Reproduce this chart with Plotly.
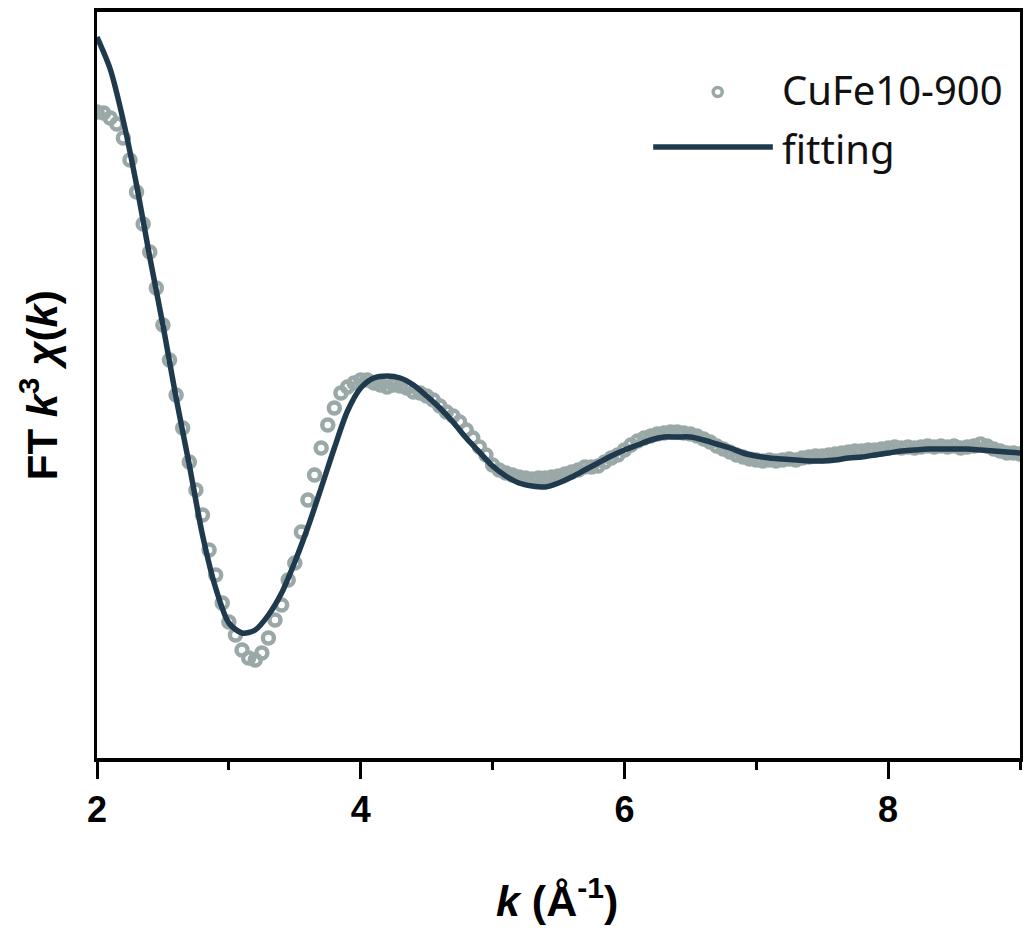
import plotly.graph_objects as go

# ---- data ----
k_data = [round(2.0 + 0.05 * i, 2) for i in range(141)]
chi_data = [
    3.43, 3.42, 3.37, 3.31, 3.17, 2.95, 2.63, 2.31, 2.03, 1.67,
    1.30, 0.95, 0.60, 0.27, -0.07, -0.35, -0.60, -0.95, -1.20, -1.48,
    -1.67, -1.80, -1.95, -2.03, -2.05, -1.98, -1.83, -1.65, -1.50, -1.25,
    -1.08, -0.77, -0.45, -0.20, 0.07, 0.30, 0.47, 0.62, 0.68, 0.72,
    0.75, 0.75, 0.72, 0.70, 0.68, 0.70, 0.69, 0.67, 0.63, 0.62,
    0.59, 0.55, 0.49, 0.43, 0.39, 0.33, 0.25, 0.17, 0.08, 0.00,
    -0.10, -0.15, -0.18, -0.20, -0.22, -0.23, -0.24, -0.23, -0.23, -0.22,
    -0.21, -0.19, -0.17, -0.15, -0.12, -0.12, -0.11, -0.07, -0.03, 0.00,
    0.05, 0.10, 0.14, 0.17, 0.19, 0.21, 0.22, 0.23, 0.23, 0.22,
    0.21, 0.19, 0.16, 0.13, 0.09, 0.06, 0.03, 0.00, -0.02, -0.04,
    -0.05, -0.06, -0.05, -0.06, -0.05, -0.04, -0.05, -0.03, -0.02, -0.01,
    -0.01, 0.00, 0.01, 0.02, 0.03, 0.04, 0.04, 0.05, 0.05, 0.06,
    0.07, 0.08, 0.07, 0.08, 0.07, 0.08, 0.09, 0.08, 0.09, 0.08,
    0.09, 0.07, 0.08, 0.09, 0.11, 0.09, 0.06, 0.04, 0.02, 0.02,
    0.01,
]

k_fit = [round(2.0 + 0.1 * i, 1) for i in range(71)]
chi_fit = [
    4.18, 3.86, 3.34, 2.70, 1.98, 1.30, 0.57, -0.10, -0.80, -1.33,
    -1.68, -1.78, -1.75, -1.60, -1.38, -1.07, -0.72, -0.33, 0.07, 0.44,
    0.67, 0.77, 0.79, 0.77, 0.70, 0.59, 0.47, 0.33, 0.17, 0.03,
    -0.11, -0.21, -0.28, -0.31, -0.32, -0.28, -0.22, -0.15, -0.08, -0.01,
    0.05, 0.10, 0.15, 0.18, 0.18, 0.18, 0.15, 0.11, 0.07, 0.02,
    -0.01, -0.03, -0.04, -0.05, -0.06, -0.06, -0.05, -0.03, -0.02, 0.00,
    0.02, 0.04, 0.05, 0.06, 0.06, 0.06, 0.06, 0.05, 0.04, 0.03,
    0.02,
]

x_ticks = [2, 4, 6, 8]
x_minor_ticks = [3, 5, 7, 9]
legend_names = ["CuFe10-900", "fitting"]

DATA_COLOR = "#9ba8a8"
FIT_COLOR = "#1f3a4c"

fig = go.Figure()
fig.add_trace(go.Scatter(
    x=k_data, y=chi_data, mode="markers", name=legend_names[0],
    marker=dict(symbol="circle-open", size=11, color=DATA_COLOR,
                line=dict(width=4.5, color=DATA_COLOR)),
    showlegend=False,
))
fig.add_trace(go.Scatter(
    x=k_fit, y=chi_fit, mode="lines", name=legend_names[1],
    line=dict(color=FIT_COLOR, width=5.5, shape="spline", smoothing=0.8),
    showlegend=False,
))

# ---- custom legend (long line sample as in the reference) ----
fig.add_shape(type="circle", xref="paper", yref="paper",
              xsizemode="pixel", ysizemode="pixel",
              xanchor=0.6725, yanchor=0.8928, x0=-4.5, x1=4.5, y0=-4.5, y1=4.5,
              line=dict(color=DATA_COLOR, width=3.5))
fig.add_shape(type="line", xref="paper", yref="paper",
              x0=0.6026, x1=0.7322, y0=0.8190, y1=0.8190,
              line=dict(color=FIT_COLOR, width=5.5))
legend_font = dict(family="Noto Sans", size=40, color="#111111")
fig.add_annotation(x=0.7395, y=0.8955, xref="paper", yref="paper", xanchor="left",
                   yanchor="middle", text=legend_names[0], showarrow=False, font=legend_font)
fig.add_annotation(x=0.7405, y=0.8175, xref="paper", yref="paper", xanchor="left",
                   yanchor="middle", text=legend_names[1], showarrow=False, font=legend_font)

# ---- axis titles ----
fig.add_annotation(x=0.4985, y=-0.188, xref="paper", yref="paper",
                   xanchor="center", yanchor="middle", showarrow=False,
                   text="<b><i>k</i> (Å<sup>-1</sup>)</b>",
                   font=dict(family="Liberation Sans", size=43, color="#000000"))
fig.add_annotation(x=-0.0626, y=0.5, xref="paper", yref="paper",
                   xanchor="center", yanchor="middle", showarrow=False, textangle=-90,
                   text="<b>FT <i>k</i><sup>3</sup> <i>χ</i>(<i>k</i>)</b>",
                   font=dict(family="Liberation Sans", size=42, color="#000000"))

fig.update_xaxes(
    range=[2, 9], tickvals=x_ticks, ticktext=[str(v) for v in x_ticks],
    ticks="outside", ticklen=17, tickwidth=3, tickcolor="black",
    showline=True, linewidth=4, linecolor="black", mirror=True,
    showgrid=False, zeroline=False,
    tickfont=dict(family="Liberation Sans", size=36, color="black", weight="bold"),
    minor=dict(tickvals=x_minor_ticks, ticks="outside", ticklen=8, tickwidth=3,
               tickcolor="black", showgrid=False),
)
fig.update_yaxes(
    range=[-3.03, 4.43], showticklabels=False, ticks="",
    showline=True, linewidth=3, linecolor="black", mirror=True,
    showgrid=False, zeroline=False,
)

fig.update_layout(
    width=1026, height=928,
    margin=dict(l=97, r=3, t=12, b=170),
    paper_bgcolor="white", plot_bgcolor="white",
    showlegend=False,
)

fig.write_html("out.html", config={"displayModeBar": False},
               post_script="document.body.style.margin='0';")
